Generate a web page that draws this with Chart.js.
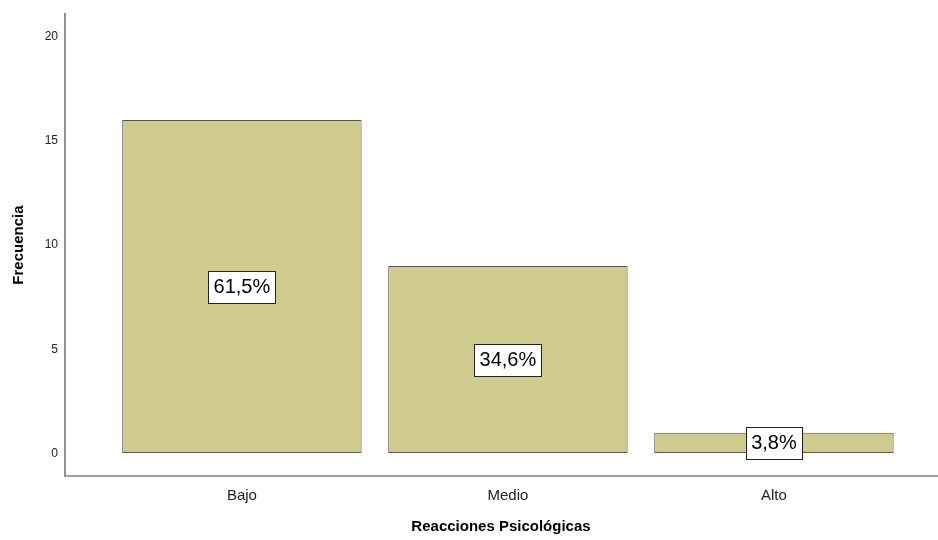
<!DOCTYPE html>
<html>
<head>
<meta charset="utf-8">
<script src="https://cdn.jsdelivr.net/npm/chart.js@4"></script>
<style>
  html, body { margin: 0; padding: 0; background: #fff; }
  #wrap { width: 938px; height: 540px; }
</style>
</head>
<body>
<div id="wrap"><canvas id="myChart" width="938" height="540"></canvas></div>
<script>
var categories = ['Bajo', 'Medio', 'Alto'];
var frequencies = [16, 9, 1];
var percentLabels = ['61,5%', '34,6%', '3,8%'];
var yTicks = [0, 5, 10, 15, 20];

// boxed percentage labels in the middle of each bar
var boxLabels = {
  id: 'boxLabels',
  afterDatasetsDraw: function(chart) {
    var ctx = chart.ctx;
    var meta = chart.getDatasetMeta(0);
    ctx.save();
    ctx.font = '20px "Liberation Sans", Arial, sans-serif';
    ctx.textAlign = 'center';
    ctx.textBaseline = 'middle';
    meta.data.forEach(function(bar, i) {
      var cy = (bar.y + bar.base) / 2;
      var w = Math.round(ctx.measureText(percentLabels[i]).width + 10);
      var h = 32;
      var left = Math.round(bar.x - w / 2) + 0.5;
      var top = Math.round(cy - h / 2) + 0.5;
      ctx.fillStyle = '#fff';
      ctx.fillRect(left, top, w, h);
      ctx.strokeStyle = '#222';
      ctx.lineWidth = 1;
      ctx.strokeRect(left, top, w, h);
      ctx.fillStyle = '#000';
      ctx.fillText(percentLabels[i], bar.x, cy + 1);
    });
    ctx.restore();
  }
};

var chart = new Chart(document.getElementById('myChart'), {
  type: 'bar',
  data: {
    datasets: [{
      data: frequencies.map(function(v, i) { return {x: i, y: v}; }),
      backgroundColor: '#cfca8e',
      borderColor: '#55554a',
      borderWidth: 1,
      borderSkipped: false,
      barPercentage: 0.9,
      categoryPercentage: 1
    }]
  },
  options: {
    responsive: false,
    animation: false,
    layout: { padding: { top: 12, right: 1 } },
    plugins: {
      legend: { display: false },
      tooltip: { enabled: false }
    },
    scales: {
      x: {
        type: 'linear',
        offset: false,
        min: -0.665,
        max: 2.613,
        afterBuildTicks: function(axis) {
          axis.ticks = categories.map(function(c, i) { return {value: i}; });
        },
        afterFit: function(axis) { axis.height = 64; },
        ticks: {
          callback: function(v) { return categories[v]; },
          color: '#222',
          padding: 11,
          font: { family: '"Liberation Sans", Arial, sans-serif', size: 15 }
        },
        grid: { display: true, color: 'transparent', drawTicks: false, offset: false },
        border: { display: true, color: '#a0a0a0', width: 2 },
        title: {
          display: true,
          text: 'Reacciones Psicológicas',
          color: '#000',
          padding: { top: 0, bottom: 4 },
          font: { family: '"Liberation Sans", Arial, sans-serif', size: 15, weight: 'bold' }
        }
      },
      y: {
        min: -1.075,
        max: 21.08,
        afterBuildTicks: function(axis) {
          axis.ticks = yTicks.map(function(v) { return {value: v}; });
        },
        afterFit: function(axis) { axis.width = 65; },
        ticks: {
          color: '#222',
          padding: 7,
          font: { family: '"Liberation Sans", Arial, sans-serif', size: 12 }
        },
        grid: { display: true, color: 'transparent', drawTicks: false },
        border: { display: true, color: '#909090', width: 2 },
        title: {
          display: true,
          text: 'Frecuencia',
          color: '#000',
          padding: { top: 10, bottom: 0 },
          font: { family: '"Liberation Sans", Arial, sans-serif', size: 15, weight: 'bold' }
        }
      }
    }
  },
  plugins: [boxLabels]
});
</script>
</body>
</html>
